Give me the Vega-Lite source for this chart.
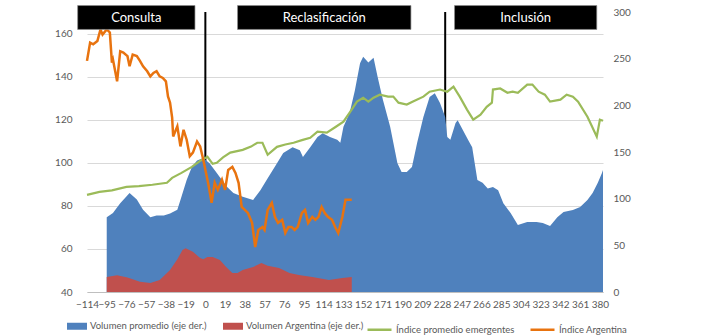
{
  "$schema": "https://vega.github.io/schema/vega-lite/v6.json",
  "width": 516,
  "height": 280,
  "autosize": {"type": "none"},
  "padding": {"left": 87, "top": 12, "right": 99, "bottom": 44},
  "background": "white",
  "config": {
    "view": {"stroke": null},
    "font": "Lato",
    "axis": {"labelFont": "Lato", "labelColor": "#595959", "labelFontSize": 10},
    "legend": {"labelFont": "Lato", "labelColor": "#595959", "labelFontSize": 9.5}
  },
  "datasets": {
    "vol": [
      {"dia": -95, "valor": 80}, {"dia": -89, "valor": 84.6}, {"dia": -82, "valor": 95}, {"dia": -73, "valor": 106},
      {"dia": -66, "valor": 99}, {"dia": -60, "valor": 88}, {"dia": -53, "valor": 80}, {"dia": -47, "valor": 82},
      {"dia": -40, "valor": 82}, {"dia": -34, "valor": 84}, {"dia": -27, "valor": 88}, {"dia": -24, "valor": 98.6},
      {"dia": -18, "valor": 120}, {"dia": -13, "valor": 134}, {"dia": -8, "valor": 141}, {"dia": -2, "valor": 143.6},
      {"dia": 4, "valor": 138}, {"dia": 11, "valor": 127.5}, {"dia": 14, "valor": 123}, {"dia": 21, "valor": 112.5},
      {"dia": 27, "valor": 106}, {"dia": 36, "valor": 102}, {"dia": 46, "valor": 98.6}, {"dia": 53, "valor": 109},
      {"dia": 59, "valor": 120}, {"dia": 69, "valor": 138}, {"dia": 75, "valor": 149}, {"dia": 84, "valor": 155},
      {"dia": 91, "valor": 152}, {"dia": 94, "valor": 144.6}, {"dia": 101, "valor": 155}, {"dia": 108, "valor": 166},
      {"dia": 113, "valor": 170}, {"dia": 120, "valor": 166}, {"dia": 127, "valor": 163}, {"dia": 130, "valor": 160},
      {"dia": 133, "valor": 177}, {"dia": 139, "valor": 192}, {"dia": 144, "valor": 216}, {"dia": 149, "valor": 245},
      {"dia": 152, "valor": 252}, {"dia": 157, "valor": 246}, {"dia": 162, "valor": 251}, {"dia": 166, "valor": 230},
      {"dia": 171, "valor": 206}, {"dia": 178, "valor": 177}, {"dia": 185, "valor": 138}, {"dia": 189, "valor": 128.6},
      {"dia": 194, "valor": 128.6}, {"dia": 199, "valor": 134}, {"dia": 204, "valor": 160}, {"dia": 210, "valor": 187.5},
      {"dia": 216, "valor": 209}, {"dia": 221, "valor": 213}, {"dia": 226, "valor": 202.5}, {"dia": 231, "valor": 187.5},
      {"dia": 233, "valor": 166}, {"dia": 236, "valor": 163}, {"dia": 241, "valor": 181}, {"dia": 243, "valor": 184},
      {"dia": 248, "valor": 173.6}, {"dia": 253, "valor": 163}, {"dia": 257, "valor": 155}, {"dia": 262, "valor": 120},
      {"dia": 267, "valor": 117}, {"dia": 272, "valor": 111}, {"dia": 277, "valor": 112.5}, {"dia": 282, "valor": 109},
      {"dia": 287, "valor": 95}, {"dia": 294, "valor": 84.6}, {"dia": 301, "valor": 71.8}, {"dia": 310, "valor": 75},
      {"dia": 319, "valor": 75}, {"dia": 325, "valor": 74}, {"dia": 332, "valor": 70.7}, {"dia": 339, "valor": 80},
      {"dia": 345, "valor": 85.7}, {"dia": 354, "valor": 87.9}, {"dia": 361, "valor": 91}, {"dia": 368, "valor": 98.6},
      {"dia": 373, "valor": 106}, {"dia": 378, "valor": 117}, {"dia": 382, "valor": 127.5}, {"dia": 383, "valor": 130.7}
    ],
    "volArg": [
      {"dia": -95, "valor": 16}, {"dia": -85, "valor": 18}, {"dia": -75, "valor": 15.5}, {"dia": -63, "valor": 11},
      {"dia": -53, "valor": 9.6}, {"dia": -44, "valor": 12.9}, {"dia": -34, "valor": 23.6}, {"dia": -27, "valor": 35},
      {"dia": -22, "valor": 45}, {"dia": -19, "valor": 47}, {"dia": -12, "valor": 43}, {"dia": -5, "valor": 36.4},
      {"dia": -2, "valor": 35}, {"dia": 2, "valor": 37.5}, {"dia": 7, "valor": 37.5}, {"dia": 14, "valor": 34.3},
      {"dia": 20, "valor": 26.8}, {"dia": 26, "valor": 20.4}, {"dia": 31, "valor": 20.4}, {"dia": 36, "valor": 23.6},
      {"dia": 46, "valor": 26.8}, {"dia": 54, "valor": 31}, {"dia": 60, "valor": 28}, {"dia": 65, "valor": 27},
      {"dia": 71, "valor": 25.7}, {"dia": 81, "valor": 20.4}, {"dia": 90, "valor": 18.2}, {"dia": 103, "valor": 16},
      {"dia": 119, "valor": 12.9}, {"dia": 132, "valor": 15}, {"dia": 141, "valor": 16}
    ],
    "emerg": [
      {"dia": -114, "valor": 85.1}, {"dia": -102, "valor": 86.5}, {"dia": -90, "valor": 87.2}, {"dia": -76, "valor": 88.8},
      {"dia": -64, "valor": 89.2}, {"dia": -51, "valor": 89.8}, {"dia": -37, "valor": 90.7}, {"dia": -32, "valor": 93.0},
      {"dia": -23, "valor": 95.3}, {"dia": -13, "valor": 98.1}, {"dia": -5, "valor": 100.9}, {"dia": 2, "valor": 102.8},
      {"dia": 7, "valor": 99.5}, {"dia": 11, "valor": 100.0}, {"dia": 17, "valor": 102.5}, {"dia": 24, "valor": 104.7},
      {"dia": 36, "valor": 106.0}, {"dia": 44, "valor": 107.5}, {"dia": 50, "valor": 109.3}, {"dia": 55, "valor": 109.3},
      {"dia": 60, "valor": 103.7}, {"dia": 69, "valor": 107.4}, {"dia": 77, "valor": 108.5}, {"dia": 85, "valor": 109.3},
      {"dia": 93, "valor": 110.5}, {"dia": 101, "valor": 111.6}, {"dia": 108, "valor": 114.4}, {"dia": 117, "valor": 114.0},
      {"dia": 125, "valor": 116.5}, {"dia": 133, "valor": 119.1}, {"dia": 139, "valor": 123.3}, {"dia": 146, "valor": 128.4},
      {"dia": 152, "valor": 130.2}, {"dia": 157, "valor": 128.4}, {"dia": 162, "valor": 130.2}, {"dia": 168, "valor": 131.6},
      {"dia": 176, "valor": 130.7}, {"dia": 181, "valor": 130.7}, {"dia": 186, "valor": 127.9}, {"dia": 194, "valor": 127.0},
      {"dia": 200, "valor": 128.4}, {"dia": 210, "valor": 130.7}, {"dia": 216, "valor": 133.0}, {"dia": 226, "valor": 134.0},
      {"dia": 233, "valor": 133.0}, {"dia": 239, "valor": 135.3}, {"dia": 245, "valor": 130.7}, {"dia": 252, "valor": 124.7},
      {"dia": 258, "valor": 120.0}, {"dia": 265, "valor": 122.3}, {"dia": 271, "valor": 126.0}, {"dia": 276, "valor": 127.9},
      {"dia": 277, "valor": 134.0}, {"dia": 284, "valor": 134.5}, {"dia": 291, "valor": 132.5}, {"dia": 296, "valor": 133.0},
      {"dia": 301, "valor": 132.5}, {"dia": 310, "valor": 136.3}, {"dia": 315, "valor": 136.3}, {"dia": 321, "valor": 133.0},
      {"dia": 327, "valor": 131.6}, {"dia": 332, "valor": 128.4}, {"dia": 342, "valor": 129.3}, {"dia": 348, "valor": 131.6},
      {"dia": 354, "valor": 130.7}, {"dia": 359, "valor": 128.4}, {"dia": 368, "valor": 121.4}, {"dia": 373, "valor": 116.3},
      {"dia": 377, "valor": 112.1}, {"dia": 380, "valor": 120.0}, {"dia": 383, "valor": 119.5}
    ],
    "arg": [
      {"dia": -114, "valor": 147.3}, {"dia": -111, "valor": 155.8}, {"dia": -108, "valor": 155}, {"dia": -104, "valor": 156.5},
      {"dia": -101, "valor": 161.9}, {"dia": -99, "valor": 159.5}, {"dia": -95, "valor": 161.9}, {"dia": -92, "valor": 160.5},
      {"dia": -90, "valor": 146.5}, {"dia": -89, "valor": 147.9}, {"dia": -85, "valor": 137.8}, {"dia": -82, "valor": 151.8},
      {"dia": -79, "valor": 151.2}, {"dia": -75, "valor": 149.5}, {"dia": -73, "valor": 144.8}, {"dia": -70, "valor": 150.2},
      {"dia": -66, "valor": 149.5}, {"dia": -63, "valor": 147.3}, {"dia": -60, "valor": 144.8}, {"dia": -56, "valor": 142.5},
      {"dia": -53, "valor": 140.1}, {"dia": -50, "valor": 141.7}, {"dia": -47, "valor": 142.5}, {"dia": -44, "valor": 140.1},
      {"dia": -41, "valor": 139.4}, {"dia": -38, "valor": 137.8}, {"dia": -36, "valor": 130.8}, {"dia": -34, "valor": 127.9},
      {"dia": -32, "valor": 121}, {"dia": -31, "valor": 112.2}, {"dia": -27, "valor": 116.9}, {"dia": -24, "valor": 107.6},
      {"dia": -21, "valor": 115.3}, {"dia": -18, "valor": 110.7}, {"dia": -15, "valor": 103}, {"dia": -12, "valor": 104.7},
      {"dia": -8, "valor": 109.9}, {"dia": -5, "valor": 107.6}, {"dia": -2, "valor": 101.4}, {"dia": 3, "valor": 89.8},
      {"dia": 6, "valor": 81.4}, {"dia": 9, "valor": 90.7}, {"dia": 12, "valor": 87.4}, {"dia": 16, "valor": 92.1},
      {"dia": 19, "valor": 87.4}, {"dia": 22, "valor": 96.7}, {"dia": 26, "valor": 98.1}, {"dia": 29, "valor": 95.3},
      {"dia": 32, "valor": 90.7}, {"dia": 35, "valor": 79.5}, {"dia": 38, "valor": 78.1}, {"dia": 41, "valor": 76.7},
      {"dia": 45, "valor": 72.1}, {"dia": 48, "valor": 60.9}, {"dia": 51, "valor": 68.8}, {"dia": 55, "valor": 70.2},
      {"dia": 57, "valor": 68.8}, {"dia": 60, "valor": 78.1}, {"dia": 64, "valor": 81.4}, {"dia": 67, "valor": 74.9},
      {"dia": 70, "valor": 72.1}, {"dia": 74, "valor": 73.5}, {"dia": 77, "valor": 67.4}, {"dia": 80, "valor": 70.2},
      {"dia": 83, "valor": 70.2}, {"dia": 86, "valor": 68.8}, {"dia": 89, "valor": 70.2}, {"dia": 93, "valor": 76.7},
      {"dia": 96, "valor": 78.1}, {"dia": 99, "valor": 72.1}, {"dia": 103, "valor": 74.9}, {"dia": 106, "valor": 73.5},
      {"dia": 109, "valor": 74.9}, {"dia": 112, "valor": 79.5}, {"dia": 115, "valor": 76.7}, {"dia": 118, "valor": 74.9},
      {"dia": 122, "valor": 73.5}, {"dia": 125, "valor": 70.2}, {"dia": 128, "valor": 67.4}, {"dia": 132, "valor": 74.9},
      {"dia": 135, "valor": 82.8}, {"dia": 137, "valor": 82.8}, {"dia": 141, "valor": 82.8}
    ],
    "fases": [
      {"fase": "Consulta", "dia": -123, "fin": -10},
      {"fase": "Reclasificación", "dia": 31, "fin": 198},
      {"fase": "Inclusión", "dia": 240, "fin": 377}
    ],
    "eventos": [
      {"evento": "Consulta", "dia": 0},
      {"evento": "Inclusión", "dia": 231}
    ]
  },
  "encoding": {
    "x": {
      "field": "dia",
      "type": "quantitative",
      "scale": {"domain": [-114, 383], "nice": false, "zero": false},
      "axis": {
        "title": null,
        "values": [-114, -95, -76, -57, -38, -19, 0, 19, 38, 57, 76, 95, 114, 133, 152, 171, 190, 209, 228, 247, 266, 285, 304, 323, 342, 361, 380],
        "grid": false,
        "ticks": false,
        "domainColor": "#BFBFBF",
        "labelPadding": 7,
        "labelOverlap": false,
        "labelFlush": false,
        "labelBound": false
      }
    }
  },
  "layer": [
    {
      "data": {"name": "eventos"},
      "mark": {"type": "rule", "color": "black", "strokeWidth": 2},
      "encoding": {"x": {"field": "dia", "type": "quantitative"}}
    },
    {
      "encoding": {
        "y": {
          "field": "valor",
          "type": "quantitative",
          "scale": {"domain": [0, 300], "nice": false},
          "axis": {
            "orient": "right",
            "title": null,
            "values": [0, 50, 100, 150, 200, 250, 300],
            "grid": false,
            "domain": false,
            "ticks": false,
            "labelPadding": 10
          }
        }
      },
      "layer": [
        {
          "data": {"name": "vol"},
          "mark": {"type": "area"},
          "encoding": {
            "fill": {
              "datum": "Volumen promedio (eje der.)",
              "type": "nominal",
              "scale": {"domain": ["Volumen promedio (eje der.)", "Volumen Argentina (eje der.)"], "range": ["#4F81BD", "#C0504D"]},
              "legend": {
                "title": null,
                "orient": "none",
                "legendX": -20,
                "legendY": 304,
                "direction": "horizontal",
                "symbolType": "M-1,-0.35H1V0.35H-1Z",
                "symbolSize": 400,
                "symbolStrokeWidth": 0,
                "labelOffset": 3,
                "columnPadding": 16
              }
            }
          }
        },
        {
          "data": {"name": "volArg"},
          "mark": {"type": "area"},
          "encoding": {
            "fill": {"datum": "Volumen Argentina (eje der.)", "type": "nominal"}
          }
        }
      ]
    },
    {
      "encoding": {
        "y": {
          "field": "valor",
          "type": "quantitative",
          "scale": {"domain": [40, 170], "nice": false, "zero": false},
          "axis": {
            "orient": "left",
            "title": null,
            "values": [40, 60, 80, 100, 120, 140, 160],
            "grid": true,
            "gridColor": "#D9D9D9",
            "domain": false,
            "ticks": false,
            "labelPadding": 15
          }
        }
      },
      "layer": [
        {
          "data": {"name": "emerg"},
          "mark": {"type": "line", "strokeWidth": 2.2},
          "encoding": {
            "stroke": {
              "datum": "Índice promedio emergentes",
              "type": "nominal",
              "scale": {"domain": ["Índice promedio emergentes", "Índice Argentina"], "range": ["#9BBB59", "#E8730F"]},
              "legend": {
                "title": null,
                "orient": "none",
                "legendX": 279,
                "legendY": 304,
                "direction": "horizontal",
                "symbolType": "stroke",
                "symbolSize": 576,
                "symbolStrokeWidth": 2.5,
                "labelOffset": 3,
                "columnPadding": 10
              }
            }
          }
        },
        {
          "data": {"name": "arg"},
          "mark": {"type": "line", "strokeWidth": 2.5},
          "encoding": {
            "stroke": {"datum": "Índice Argentina", "type": "nominal"}
          }
        }
      ]
    },
    {
      "data": {"name": "fases"},
      "encoding": {
        "y": {"datum": 173, "type": "quantitative", "scale": {"domain": [40, 170], "nice": false, "zero": false}, "axis": null}
      },
      "layer": [
        {
          "mark": {"type": "rect", "fill": "black", "stroke": "#8C8C8C", "strokeWidth": 0.7},
          "encoding": {"x2": {"field": "fin"}, "y2": {"datum": 161.9}}
        },
        {
          "transform": [{"calculate": "(datum.dia + datum.fin) / 2", "as": "centro"}],
          "mark": {"type": "text", "color": "white", "fontSize": 13, "font": "Lato", "baseline": "middle", "align": "center"},
          "encoding": {"x": {"field": "centro", "type": "quantitative"}, "y": {"datum": 167.4, "type": "quantitative"}, "text": {"field": "fase"}}
        }
      ]
    }
  ],
  "resolve": {"scale": {"y": "independent"}}
}
